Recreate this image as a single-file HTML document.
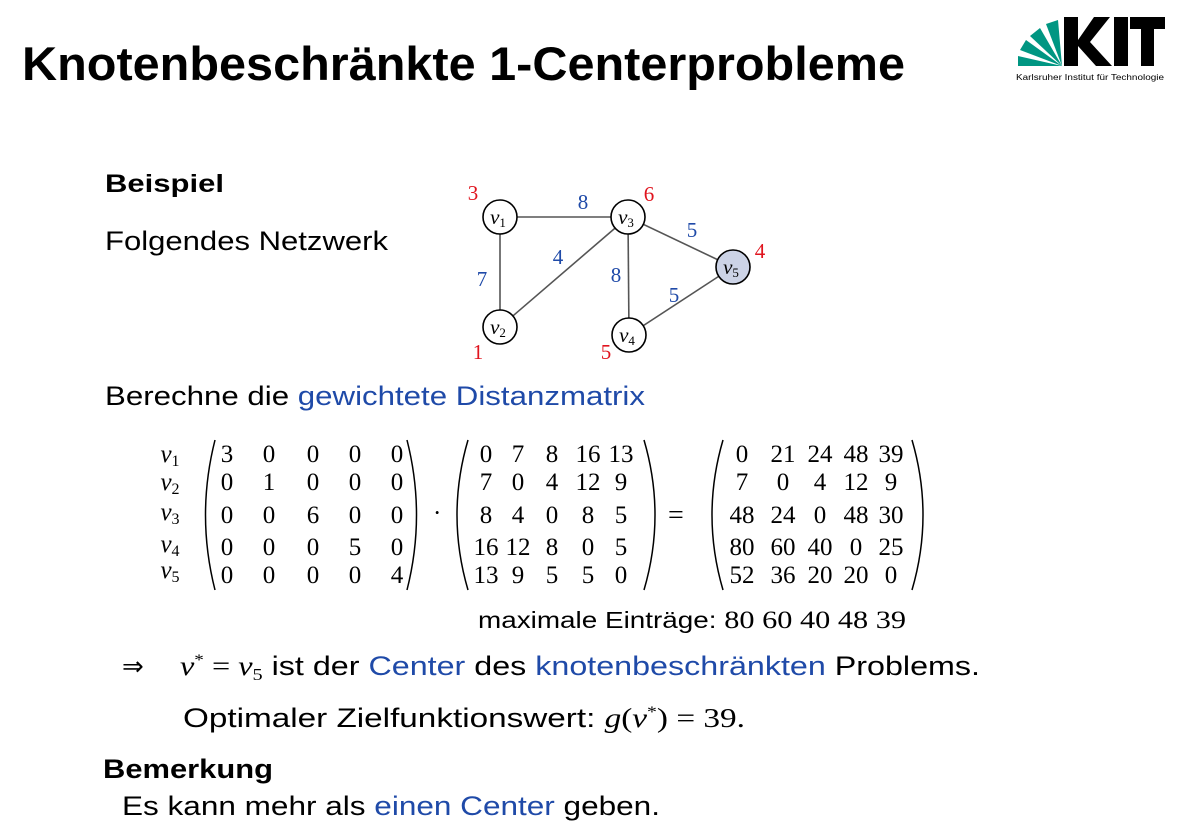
<!DOCTYPE html>
<html><head><meta charset="utf-8"><style>
html,body{margin:0;padding:0;background:#fff;}
svg{display:block;}
.s{font-family:"Liberation Sans",sans-serif;}
.m{font-family:"Liberation Serif",serif;}
.b{fill:#1f4aa8;}
.r{fill:#e0141e;}
.n{font-style:normal;}
</style></head><body>
<svg width="1196" height="834" viewBox="0 0 1196 834">
<text class="s" x="22" y="80" font-size="47" font-weight="bold" textLength="883" lengthAdjust="spacingAndGlyphs">Knotenbeschränkte 1-Centerprobleme</text>
<g>
 <g fill="#009682">
  <polygon points="1062,66 1018,66 1018,56"/>
  <polygon points="1062,66 1020,50 1026,40"/>
  <polygon points="1062,66 1030,36 1040,28"/>
  <polygon points="1062,66 1046,24 1058,20"/>
 </g>
 <polygon points="1064,66 1064,17 1078,17 1078,40 1094,17 1110,17 1090,42 1112,66 1096,66 1078,46 1078,66" fill="#000"/>
 <rect x="1114" y="17" width="14" height="49" fill="#000"/>
 <polygon points="1130,17 1165,17 1165,29 1154,29 1154,66 1141,66 1141,29 1130,29" fill="#000"/>
 <text class="s" x="1016" y="80" font-size="8" textLength="148" lengthAdjust="spacingAndGlyphs">Karlsruher Institut für Technologie</text>
</g>
<text class="s" x="105" y="192" font-size="25" font-weight="bold" textLength="119" lengthAdjust="spacingAndGlyphs">Beispiel</text>
<text class="s" x="105" y="250" font-size="27" textLength="283" lengthAdjust="spacingAndGlyphs">Folgendes Netzwerk</text>
<g stroke="#555" stroke-width="1.6">
 <line x1="500" y1="217" x2="628" y2="217"/>
 <line x1="500" y1="217" x2="500" y2="327"/>
 <line x1="500" y1="327" x2="628" y2="217"/>
 <line x1="628" y1="217" x2="629" y2="335"/>
 <line x1="628" y1="217" x2="733" y2="267"/>
 <line x1="629" y1="335" x2="733" y2="267"/>
 <circle cx="500" cy="217" r="17" fill="#fff" stroke="#000"/>
 <circle cx="500" cy="327" r="17" fill="#fff" stroke="#000"/>
 <circle cx="628" cy="217" r="17" fill="#fff" stroke="#000"/>
 <circle cx="629" cy="335" r="17" fill="#fff" stroke="#000"/>
 <circle cx="733" cy="267" r="17" fill="#ccd3e6" stroke="#000"/>
</g>
<g class="m" font-size="21" font-style="italic" text-anchor="middle">
 <text x="498" y="224">v<tspan class="n" font-size="13" dy="3">1</tspan></text>
 <text x="498" y="334">v<tspan class="n" font-size="13" dy="3">2</tspan></text>
 <text x="626" y="224">v<tspan class="n" font-size="13" dy="3">3</tspan></text>
 <text x="627" y="342">v<tspan class="n" font-size="13" dy="3">4</tspan></text>
 <text x="731" y="274">v<tspan class="n" font-size="13" dy="3">5</tspan></text>
</g>
<g class="m" font-size="21" text-anchor="middle">
 <text class="r" x="473" y="200">3</text><text class="r" x="649" y="201">6</text><text class="r" x="760" y="258">4</text>
 <text class="r" x="478" y="359">1</text><text class="r" x="606" y="359">5</text>
 <text class="b" x="583" y="209">8</text><text class="b" x="692" y="237">5</text><text class="b" x="558" y="264">4</text>
 <text class="b" x="616" y="282">8</text><text class="b" x="482" y="286">7</text><text class="b" x="674" y="302">5</text>
</g>
<text class="s" x="105" y="405" font-size="27" textLength="540" lengthAdjust="spacingAndGlyphs">Berechne die <tspan class="b">gewichtete Distanzmatrix</tspan></text>
<g class="m" font-size="25">
 <g font-style="italic" text-anchor="middle">
  <text x="170" y="462">v<tspan class="n" font-size="16" dy="4">1</tspan></text>
  <text x="170" y="490">v<tspan class="n" font-size="16" dy="4">2</tspan></text>
  <text x="170" y="520">v<tspan class="n" font-size="16" dy="4">3</tspan></text>
  <text x="170" y="552">v<tspan class="n" font-size="16" dy="4">4</tspan></text>
  <text x="170" y="578">v<tspan class="n" font-size="16" dy="4">5</tspan></text>
 </g>
 <g fill="none" stroke="#000" stroke-width="1.5">
  <path d="M215,440 Q196,515 215,590"/><path d="M407,440 Q426,515 407,590"/>
  <path d="M468,440 Q446,515 468,590"/><path d="M644,440 Q666,515 644,590"/>
  <path d="M723,440 Q701,515 723,590"/><path d="M912,440 Q934,515 912,590"/>
 </g>
 <text x="433" y="521">·</text>
 <text x="668" y="524" font-size="28">=</text>
 <g text-anchor="middle" id="mats"></g>
</g>
<text class="s" x="478" y="628" font-size="23" textLength="428" lengthAdjust="spacingAndGlyphs">maximale Einträge: <tspan class="m" font-size="25">80 60 40  48 39</tspan></text>
<text class="s" x="122" y="675" font-size="26">⇒</text>
<text class="s" x="180" y="675" font-size="27" textLength="800" lengthAdjust="spacingAndGlyphs"><tspan class="m" font-style="italic">v</tspan><tspan class="m" font-size="16" dy="-10">*</tspan><tspan class="m" dy="10"> = </tspan><tspan class="m" font-style="italic">v</tspan><tspan class="m" font-size="17" dy="5">5</tspan><tspan dy="-5"> ist der </tspan><tspan class="b">Center</tspan> des <tspan class="b">knotenbeschränkten</tspan> Problems.</text>
<text class="s" x="183" y="727" font-size="27" textLength="562" lengthAdjust="spacingAndGlyphs">Optimaler Zielfunktionswert: <tspan class="m" font-style="italic">g</tspan><tspan class="m">(</tspan><tspan class="m" font-style="italic">v</tspan><tspan class="m" font-size="16" dy="-10">*</tspan><tspan class="m" dy="10">) = 39.</tspan></text>
<text class="s" x="103" y="778" font-size="27" font-weight="bold" textLength="170" lengthAdjust="spacingAndGlyphs">Bemerkung</text>
<text class="s" x="122" y="815" font-size="27" textLength="538" lengthAdjust="spacingAndGlyphs">Es kann mehr als <tspan class="b">einen Center</tspan> geben.</text>
</svg>
<script>
const weights=[[3,0,0,0,0],[0,1,0,0,0],[0,0,6,0,0],[0,0,0,5,0],[0,0,0,0,4]];
const dist=[[0,7,8,16,13],[7,0,4,12,9],[8,4,0,8,5],[16,12,8,0,5],[13,9,5,5,0]];
const result=[[0,21,24,48,39],[7,0,4,12,9],[48,24,0,48,30],[80,60,40,0,25],[52,36,20,20,0]];
const rowY=[462,490,523,555,583];
const g=document.getElementById('mats');
function draw(m,xs){
 m.forEach((row,i)=>row.forEach((v,j)=>{
  const t=document.createElementNS('http://www.w3.org/2000/svg','text');
  t.setAttribute('x',xs[j]);t.setAttribute('y',rowY[i]);t.textContent=v;
  
  
  g.appendChild(t);
 }));
}
draw(weights,[227,269,313,355,397]);
draw(dist,[486,518,552,588,621]);
draw(result,[742,783,820,856,891]);
</script>
</body></html>
